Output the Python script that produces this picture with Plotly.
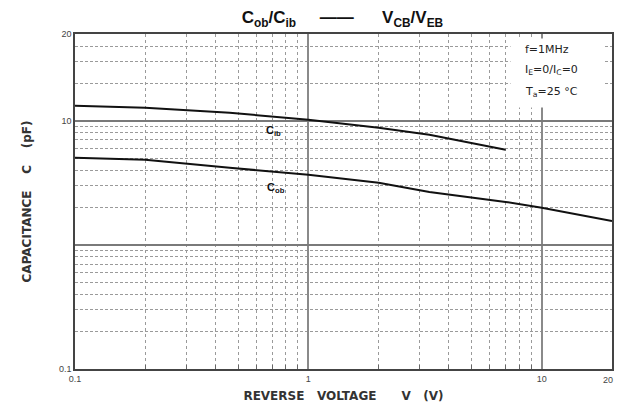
import plotly.graph_objects as go

# Data (reverse voltage V, capacitance pF)
cib_v = [0.1, 0.2, 0.46, 1.0, 2.0, 3.3, 7.0]
cib_c = [13.2, 12.7, 11.6, 10.2, 8.8, 7.7, 5.85]
cob_v = [0.1, 0.2, 0.46, 1.0, 2.0, 3.3, 7.0, 10.0, 20.0]
cob_c = [5.03, 4.85, 4.18, 3.67, 3.16, 2.67, 2.22, 1.99, 1.56]

x_tickvals = [0.1, 1, 10]
x_ticktext = ["0.1", "1", "10"]
x_end_label = "20"
x_minor = [0.2, 0.3, 0.4, 0.5, 0.6, 0.7, 0.8, 0.9, 2, 3, 4, 5, 6, 7, 8, 9]
y_tickvals = [0.1, 1, 10, 50]
y_ticktext = ["0.1", " ", "10", "20"]
y_minor = [0.2, 0.3, 0.4, 0.5, 0.6, 0.7, 0.8, 0.9,
           2, 3, 4, 5, 6, 7, 8, 9, 20, 30, 40]

FONT = "Liberation Sans, Arial, sans-serif"
WIDE = "DejaVu Sans"
NB = "&nbsp;"

fig = go.Figure()
fig.add_trace(go.Scatter(x=cib_v, y=cib_c, mode="lines",
                         line=dict(color="#111", width=2),
                         showlegend=False))
fig.add_trace(go.Scatter(x=cob_v, y=cob_c, mode="lines",
                         line=dict(color="#111", width=2),
                         showlegend=False))

fig.update_layout(
    width=617, height=415,
    margin=dict(l=75, r=5, t=34, b=46),
    paper_bgcolor="white", plot_bgcolor="white",
    font=dict(family=FONT, color="#222"),
    title=dict(text="C<sub>ob</sub>/C<sub>ib</sub>" + NB * 5 + "——" + NB * 6 + "V<sub>CB</sub>/V<sub>EB</sub>",
               x=0.555, xanchor="center", y=0.959, yanchor="middle",
               font=dict(size=17, family=FONT, color="#111", weight="bold")),
)

fig.update_xaxes(
    type="log", range=[-1, 1.30103], automargin=False,
    tickvals=x_tickvals, ticktext=x_ticktext,
    tickfont=dict(size=9, color="#444"), ticks="",
    showgrid=True, gridcolor="#8a8a8a", gridwidth=2,
    showline=True, linecolor="#444", linewidth=1.5, mirror=True,
    minor=dict(tickvals=x_minor, showgrid=True, gridcolor="#9a9a9a",
               griddash="dot", gridwidth=1, ticks="inside", ticklen=4,
               tickcolor="#666"),
    title=dict(text="REVERSE" + NB * 3 + "VOLTAGE" + NB * 6 + "V" + NB * 3 + "(V)", standoff=9,
               font=dict(size=12, family=WIDE, color="#333", weight="bold")),
    zeroline=False,
)
fig.update_yaxes(
    type="log", range=[-1, 1.69897], automargin=False,
    tickvals=y_tickvals, ticktext=y_ticktext,
    tickfont=dict(size=9, color="#444"), ticks="",
    showgrid=True, gridcolor="#7a7a7a", gridwidth=1.5,
    showline=True, linecolor="#444", linewidth=1.5, mirror=True,
    minor=dict(tickvals=y_minor, showgrid=True, gridcolor="#9a9a9a",
               griddash="3px,2px", gridwidth=1),
    title=dict(text="CAPACITANCE" + NB * 4 + "C" + NB * 4 + "(pF)", standoff=25,
               font=dict(size=12, family=WIDE, color="#333", weight="bold")),
    zeroline=False,
)

fig.add_annotation(text=x_end_label, xref="paper", yref="paper", x=1.006, y=-0.012,
                   xanchor="right", yanchor="top", showarrow=False,
                   font=dict(size=9, color="#444"))

# white box behind the condition notes
fig.add_annotation(text=" ", xref="paper", yref="paper", x=0.81, y=0.988,
                   xanchor="left", yanchor="top", showarrow=False,
                   width=92, height=68, bgcolor="white", borderpad=0)

notes = ["f=1MHz", "I<sub>E</sub>=0/I<sub>C</sub>=0", "T<sub>a</sub>=25 °C"]
note_y = [0.955, 0.893, 0.828]
for t, yy in zip(notes, note_y):
    fig.add_annotation(text=t, xref="paper", yref="paper", x=0.834, y=yy,
                       xanchor="left", yanchor="middle", showarrow=False,
                       font=dict(size=11, family=WIDE, color="#222"))

fig.add_annotation(text="C<sub>ib</sub>", x=-0.15, y=0.915, xref="x", yref="y",
                   showarrow=False, font=dict(size=11, family=FONT, color="#111", weight="bold"))
fig.add_annotation(text="C<sub>ob</sub>", x=-0.14, y=0.462, xref="x", yref="y",
                   showarrow=False, font=dict(size=11, family=FONT, color="#111", weight="bold"))

fig.write_html("out.html", config={"displayModeBar": False},
               post_script="document.body.style.margin='0';document.body.style.overflow='hidden';")
